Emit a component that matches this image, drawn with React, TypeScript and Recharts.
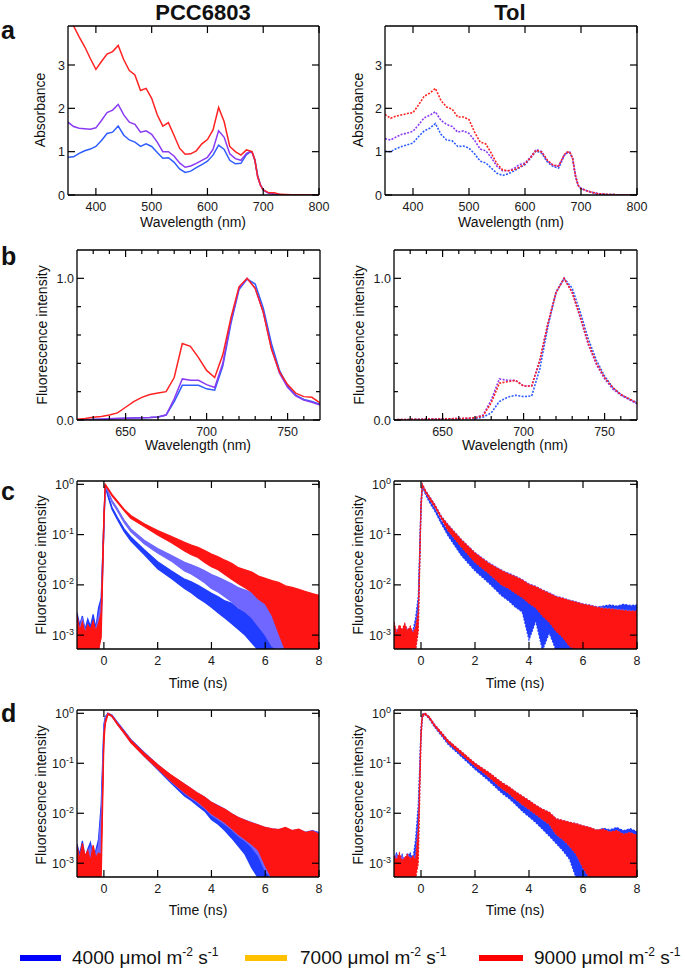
import React from "react";
import { Area, ComposedChart, Line, XAxis, YAxis } from "recharts";

const FONT = "'Liberation Sans', Arial, Helvetica, sans-serif";

// ---------- a: absorbance spectra ----------
const absWavelength = [
  350, 360, 370, 380, 390, 400, 410, 420, 430, 440, 450, 460, 470, 480, 490, 500, 510, 520, 530, 540,
  550, 560, 570, 580, 590, 600, 610, 620, 630, 640, 650, 660, 670, 675, 680, 685, 690, 695, 700, 710,
  720, 730, 740, 750, 760, 770, 780, 790, 800,
];
const pccAbsRed = [
  4.05, 3.9, 3.65, 3.42, 3.15, 2.9, 3.08, 3.25, 3.31, 3.45, 3.12, 2.87, 2.77, 2.41, 2.46, 2.23, 1.85, 1.59, 1.67, 1.38,
  1.08, 0.94, 0.95, 1.02, 1.18, 1.28, 1.5, 2.02, 1.69, 1.12, 1.0, 0.92, 1.04, 1.02, 1.0, 0.81, 0.42, 0.23, 0.12, 0.05,
  0.05, 0.015, 0.01, 0.005, 0.004, 0.003, 0.002, 0.002, 0.002,
];
const pccAbsPurple = [
  1.68, 1.58, 1.54, 1.53, 1.52, 1.55, 1.72, 1.9, 1.96, 2.09, 1.85, 1.68, 1.63, 1.45, 1.48, 1.4, 1.22, 1.0, 1.0, 0.9,
  0.74, 0.64, 0.67, 0.73, 0.8, 0.87, 1.05, 1.48, 1.33, 0.95, 0.84, 0.8, 0.96, 0.99, 0.98, 0.8, 0.42, 0.22, 0.11, 0.04,
  0.02, 0.01, 0.005, 0.003, 0.002, 0.002, 0.001, 0.001, 0.001,
];
const pccAbsBlue = [
  0.87, 0.88, 0.96, 1.02, 1.06, 1.12, 1.26, 1.42, 1.45, 1.59, 1.38, 1.27, 1.22, 1.12, 1.18, 1.12, 0.98, 0.85, 0.86, 0.76,
  0.6, 0.52, 0.55, 0.63, 0.7, 0.78, 0.92, 1.15, 1.05, 0.8, 0.72, 0.73, 0.93, 0.98, 0.99, 0.82, 0.45, 0.24, 0.12, 0.04,
  0.02, 0.01, 0.005, 0.003, 0.002, 0.002, 0.001, 0.001, 0.001,
];
const tolAbsRed = [
  1.86, 1.77, 1.82, 1.85, 1.88, 1.9, 2.08, 2.28, 2.35, 2.46, 2.18, 2.03, 1.98, 1.8, 1.8, 1.74, 1.45, 1.22, 1.18, 0.96,
  0.72, 0.58, 0.56, 0.58, 0.64, 0.72, 0.86, 1.03, 0.99, 0.8, 0.69, 0.67, 0.93, 0.99, 0.99, 0.85, 0.45, 0.22, 0.15, 0.1,
  0.06, 0.03, 0.02, 0.01, 0.008, 0.005, 0.004, 0.003, 0.002,
];
const tolAbsPurple = [
  1.3, 1.27, 1.34, 1.4, 1.43, 1.47, 1.62, 1.78, 1.84, 1.92, 1.72, 1.63, 1.58, 1.45, 1.48, 1.42, 1.26, 1.06, 1.02, 0.86,
  0.66, 0.56, 0.56, 0.61, 0.7, 0.74, 0.88, 1.05, 1.0, 0.79, 0.68, 0.66, 0.92, 0.98, 0.99, 0.85, 0.45, 0.22, 0.15, 0.1,
  0.06, 0.03, 0.02, 0.01, 0.008, 0.005, 0.004, 0.003, 0.002,
];
const tolAbsBlue = [
  1.01, 1.0, 1.07, 1.12, 1.16, 1.2, 1.35, 1.48, 1.54, 1.65, 1.4, 1.27, 1.25, 1.12, 1.13, 1.08, 0.95, 0.78, 0.74, 0.62,
  0.5, 0.45, 0.49, 0.55, 0.63, 0.7, 0.85, 1.02, 0.96, 0.76, 0.66, 0.62, 0.91, 0.97, 0.98, 0.84, 0.45, 0.22, 0.15, 0.1,
  0.06, 0.03, 0.02, 0.01, 0.008, 0.005, 0.004, 0.003, 0.002,
];

// ---------- b: 77 K fluorescence spectra ----------
const flWavelength = [
  620, 625, 630, 635, 640, 645, 650, 655, 660, 665, 670, 675, 680, 685, 690, 695, 700, 705, 710, 715,
  720, 725, 730, 735, 740, 745, 750, 755, 760, 765, 770,
];
const pccFlRed = [
  0.005, 0.01, 0.02, 0.025, 0.035, 0.05, 0.09, 0.13, 0.16, 0.18, 0.19, 0.2, 0.3, 0.54, 0.52, 0.44, 0.35, 0.3, 0.46, 0.72,
  0.94, 1.0, 0.93, 0.76, 0.5, 0.34, 0.25, 0.19, 0.165, 0.16, 0.12,
];
const pccFlPurple = [
  0.0, 0.002, 0.004, 0.006, 0.008, 0.01, 0.012, 0.014, 0.016, 0.018, 0.022, 0.035, 0.15, 0.29, 0.28, 0.28, 0.25, 0.23, 0.4, 0.7,
  0.93, 1.0, 0.93, 0.76, 0.51, 0.33, 0.23, 0.17, 0.14, 0.125, 0.105,
];
const pccFlBlue = [
  0.0, 0.002, 0.004, 0.006, 0.008, 0.01, 0.012, 0.014, 0.016, 0.018, 0.022, 0.035, 0.13, 0.245, 0.245, 0.245, 0.22, 0.21, 0.38, 0.68,
  0.92, 0.995, 0.96, 0.79, 0.54, 0.35, 0.24, 0.175, 0.145, 0.13, 0.11,
];
const tolFlRed = [
  0.002, 0.003, 0.004, 0.005, 0.006, 0.007, 0.008, 0.009, 0.01, 0.012, 0.015, 0.03, 0.12, 0.26, 0.27, 0.28, 0.24, 0.24, 0.42, 0.68,
  0.9, 1.0, 0.9, 0.73, 0.54, 0.4, 0.3, 0.23, 0.18, 0.15, 0.12,
];
const tolFlPurple = [
  0.002, 0.003, 0.004, 0.005, 0.006, 0.007, 0.008, 0.009, 0.01, 0.012, 0.016, 0.035, 0.14, 0.29, 0.28, 0.28, 0.24, 0.24, 0.42, 0.68,
  0.9, 1.0, 0.9, 0.72, 0.53, 0.39, 0.29, 0.22, 0.175, 0.145, 0.115,
];
const tolFlBlue = [
  0.0, 0.001, 0.002, 0.003, 0.004, 0.005, 0.006, 0.007, 0.008, 0.009, 0.01, 0.02, 0.05, 0.13, 0.16, 0.175, 0.165, 0.17, 0.36, 0.66,
  0.9, 1.0, 0.93, 0.76, 0.57, 0.42, 0.31, 0.23, 0.18, 0.15, 0.12,
];

// ---------- c, d: fluorescence decays (noise envelope lo / hi) ----------
const decayTime = [
  -1, -0.9, -0.8, -0.7, -0.6, -0.5, -0.4, -0.3, -0.2, -0.1, 0, 0.05, 0.15, 0.3, 0.5, 0.75, 1, 1.5, 2, 2.5,
  3, 3.25, 3.5, 3.75, 4, 4.25, 4.5, 4.75, 5, 5.25, 5.5, 5.75, 6, 6.25, 6.5, 6.75, 7, 7.25, 7.5, 7.75, 8,
];

// c, PCC6803
const cPccBlueLo = [
  0.0005, 0.0005, 0.0005, 0.0005, 0.0005, 0.0005, 0.0005, 0.0005, 0.0005, 0.0025, 0.12, 0.9, 0.58, 0.32, 0.2, 0.115, 0.075, 0.04, 0.021, 0.0135,
  0.0085, 0.007, 0.0055, 0.0045, 0.0036, 0.0028, 0.0022, 0.0017, 0.0013, 0.001, 0.0007, 0.0005, 0.0005, 0.0005, 0.0005, 0.0005, 0.0005, 0.0005, 0.0005, 0.0005, 0.0005,
];
const cPccBlueHi = [
  0.0028, 0.0016, 0.0024, 0.0013, 0.0021, 0.0015, 0.0026, 0.0014, 0.0035, 0.0055, 0.2, 0.97, 0.63, 0.35, 0.22, 0.13, 0.09, 0.05, 0.029, 0.019,
  0.013, 0.0115, 0.0098, 0.0082, 0.0068, 0.0058, 0.0048, 0.0043, 0.0033, 0.0031, 0.0024, 0.0023, 0.0017, 0.0018, 0.0013, 0.0015, 0.0011, 0.0012, 0.001, 0.0011, 0.0009,
];
const cPccVioLo = [
  0.0005, 0.0005, 0.0005, 0.0005, 0.0005, 0.0005, 0.0005, 0.0005, 0.0005, 0.0015, 0.15, 0.92, 0.7, 0.44, 0.3, 0.175, 0.115, 0.066, 0.043, 0.03,
  0.019, 0.0165, 0.0135, 0.011, 0.0085, 0.0072, 0.0058, 0.0046, 0.0035, 0.0029, 0.0022, 0.0015, 0.001, 0.0006, 0.0005, 0.0005, 0.0005, 0.0005, 0.0005, 0.0005, 0.0005,
];
const cPccVioHi = [
  0.0018, 0.0014, 0.0022, 0.0012, 0.0016, 0.0011, 0.0017, 0.0013, 0.0024, 0.0045, 0.22, 0.98, 0.74, 0.48, 0.33, 0.195, 0.13, 0.077, 0.053, 0.039,
  0.028, 0.025, 0.022, 0.019, 0.016, 0.0142, 0.0122, 0.0105, 0.0088, 0.0079, 0.007, 0.0062, 0.0054, 0.0049, 0.0044, 0.004, 0.0036, 0.0033, 0.003, 0.0028, 0.0026,
];
const cPccRedLo = [
  0.0005, 0.0005, 0.0005, 0.0005, 0.0005, 0.0005, 0.0005, 0.0005, 0.0005, 0.0009, 0.15, 0.95, 0.8, 0.59, 0.44, 0.3, 0.21, 0.145, 0.098, 0.07,
  0.047, 0.04, 0.035, 0.028, 0.023, 0.02, 0.016, 0.013, 0.0105, 0.0088, 0.0072, 0.0052, 0.0042, 0.0025, 0.0011, 0.0005, 0.0005, 0.0005, 0.0005, 0.0005, 0.0005,
];
const cPccRedHi = [
  0.0025, 0.0012, 0.0018, 0.0011, 0.0016, 0.0013, 0.0019, 0.0012, 0.0017, 0.0028, 0.25, 1.0, 0.84, 0.63, 0.47, 0.32, 0.24, 0.165, 0.12, 0.092,
  0.07, 0.062, 0.056, 0.048, 0.041, 0.036, 0.031, 0.027, 0.022, 0.02, 0.018, 0.015, 0.0135, 0.0122, 0.0112, 0.0096, 0.0089, 0.0082, 0.0074, 0.0067, 0.0062,
];

// c, Tol
const cTolBlueLo = [
  0.0005, 0.0005, 0.0005, 0.0005, 0.0005, 0.0005, 0.0005, 0.0005, 0.0008, 0.003, 0.3, 0.92, 0.66, 0.45, 0.3, 0.165, 0.095, 0.038, 0.019, 0.011,
  0.006, 0.0048, 0.0036, 0.0029, 0.0008, 0.0019, 0.0005, 0.0011, 0.0005, 0.0005, 0.0005, 0.0005, 0.0005, 0.0005, 0.0005, 0.0005, 0.0005, 0.0005, 0.0005, 0.0005, 0.0005,
];
const cTolBlueHi = [
  0.0013, 0.0011, 0.0014, 0.0012, 0.0015, 0.0011, 0.0013, 0.0012, 0.0022, 0.006, 0.42, 0.99, 0.72, 0.5, 0.34, 0.19, 0.12, 0.057, 0.033, 0.019,
  0.014, 0.0118, 0.0092, 0.0078, 0.0066, 0.0058, 0.005, 0.0046, 0.0041, 0.0039, 0.0037, 0.0036, 0.0035, 0.0037, 0.0036, 0.0038, 0.004, 0.0038, 0.0041, 0.0039, 0.004,
];
const cTolVioLo = [
  0.0005, 0.0005, 0.0005, 0.0005, 0.0005, 0.0005, 0.0005, 0.0005, 0.0005, 0.0015, 0.32, 0.94, 0.73, 0.53, 0.37, 0.215, 0.125, 0.058, 0.029, 0.0175,
  0.01, 0.0088, 0.007, 0.0058, 0.0045, 0.0036, 0.0026, 0.0019, 0.0013, 0.001, 0.0007, 0.0005, 0.0005, 0.0005, 0.0005, 0.0005, 0.0005, 0.0005, 0.0005, 0.0005, 0.0005,
];
const cTolVioHi = [
  0.0016, 0.0012, 0.0015, 0.0011, 0.0016, 0.0013, 0.0014, 0.0012, 0.0016, 0.0035, 0.47, 1.0, 0.79, 0.59, 0.41, 0.235, 0.16, 0.08, 0.044, 0.028,
  0.0195, 0.017, 0.015, 0.0128, 0.0105, 0.0094, 0.008, 0.007, 0.006, 0.0055, 0.005, 0.0046, 0.0042, 0.004, 0.0037, 0.0035, 0.0034, 0.0033, 0.0032, 0.0031, 0.003,
];
const cTolRedLo = [
  0.0005, 0.0005, 0.0005, 0.0005, 0.0005, 0.0005, 0.0005, 0.0005, 0.0005, 0.0012, 0.3, 0.95, 0.72, 0.52, 0.36, 0.21, 0.12, 0.056, 0.028, 0.017,
  0.0098, 0.0085, 0.0068, 0.0056, 0.0043, 0.0035, 0.0024, 0.0018, 0.0012, 0.0009, 0.0006, 0.0005, 0.0005, 0.0005, 0.0005, 0.0005, 0.0005, 0.0005, 0.0005, 0.0005, 0.0005,
];
const cTolRedHi = [
  0.0018, 0.0011, 0.0016, 0.0013, 0.0017, 0.0012, 0.0015, 0.0011, 0.0014, 0.003, 0.45, 1.0, 0.78, 0.58, 0.4, 0.23, 0.155, 0.078, 0.043, 0.027,
  0.019, 0.0165, 0.0145, 0.0125, 0.0102, 0.0092, 0.0078, 0.0068, 0.0058, 0.0054, 0.0049, 0.0045, 0.0041, 0.0039, 0.0036, 0.0034, 0.0033, 0.0032, 0.0031, 0.003, 0.003,
];

// d, PCC6803
const dPccBlueLo = [
  0.0005, 0.0005, 0.0005, 0.0005, 0.0005, 0.0005, 0.0005, 0.0005, 0.001, 0.008, 0.4, 0.75, 0.97, 0.88, 0.62, 0.41, 0.27, 0.14, 0.075, 0.04,
  0.022, 0.018, 0.014, 0.011, 0.0075, 0.006, 0.0045, 0.0032, 0.0022, 0.0015, 0.0008, 0.0005, 0.0005, 0.0005, 0.0005, 0.0005, 0.0005, 0.0005, 0.0005, 0.0005, 0.0005,
];
const dPccBlueHi = [
  0.0024, 0.0015, 0.0028, 0.0013, 0.0019, 0.0026, 0.0014, 0.0018, 0.003, 0.015, 0.6, 0.85, 1.0, 0.93, 0.67, 0.45, 0.3, 0.165, 0.092, 0.055,
  0.034, 0.028, 0.022, 0.018, 0.014, 0.012, 0.0095, 0.0078, 0.0065, 0.0056, 0.0048, 0.0042, 0.0038, 0.0035, 0.0042, 0.0036, 0.004, 0.0044, 0.0039, 0.0045, 0.0041,
];
const dPccVioLo = [
  0.0005, 0.0005, 0.0005, 0.0005, 0.0005, 0.0005, 0.0005, 0.0005, 0.0005, 0.003, 0.35, 0.7, 0.96, 0.87, 0.61, 0.4, 0.265, 0.14, 0.077, 0.043,
  0.025, 0.02, 0.016, 0.0125, 0.0092, 0.0075, 0.006, 0.0047, 0.0035, 0.0028, 0.0021, 0.0014, 0.0007, 0.0005, 0.0005, 0.0005, 0.0005, 0.0005, 0.0005, 0.0005, 0.0005,
];
const dPccVioHi = [
  0.002, 0.0013, 0.0022, 0.0012, 0.0017, 0.0021, 0.0013, 0.0016, 0.0022, 0.009, 0.5, 0.8, 1.0, 0.91, 0.65, 0.44, 0.295, 0.162, 0.094, 0.057,
  0.038, 0.031, 0.025, 0.021, 0.0165, 0.0142, 0.012, 0.0098, 0.0082, 0.0073, 0.0065, 0.0058, 0.0052, 0.0049, 0.0047, 0.005, 0.0045, 0.0047, 0.0042, 0.0045, 0.0039,
];
const dPccRedLo = [
  0.0005, 0.0005, 0.0005, 0.0005, 0.0005, 0.0005, 0.0005, 0.0005, 0.0005, 0.0005, 0.25, 0.6, 0.95, 0.86, 0.6, 0.4, 0.26, 0.14, 0.078, 0.044,
  0.026, 0.021, 0.017, 0.013, 0.0098, 0.008, 0.0065, 0.005, 0.0038, 0.003, 0.0024, 0.0018, 0.0009, 0.0005, 0.0005, 0.0005, 0.0005, 0.0005, 0.0005, 0.0005, 0.0005,
];
const dPccRedHi = [
  0.0022, 0.0012, 0.0025, 0.0014, 0.0018, 0.0011, 0.0023, 0.0013, 0.0016, 0.0015, 0.4, 0.7, 1.0, 0.9, 0.64, 0.43, 0.29, 0.16, 0.094, 0.058,
  0.038, 0.031, 0.025, 0.021, 0.0165, 0.014, 0.012, 0.0098, 0.0082, 0.0072, 0.0064, 0.0058, 0.0052, 0.0049, 0.0047, 0.0052, 0.0045, 0.0048, 0.0041, 0.0044, 0.0038,
];

// d, Tol
const dTolBlueLo = [
  0.0005, 0.0005, 0.0005, 0.0005, 0.0005, 0.0005, 0.0005, 0.0005, 0.0012, 0.006, 0.35, 0.85, 0.95, 0.78, 0.53, 0.36, 0.24, 0.135, 0.076, 0.045,
  0.025, 0.02, 0.015, 0.011, 0.0085, 0.0065, 0.0048, 0.0035, 0.0025, 0.0018, 0.0012, 0.0005, 0.0005, 0.0005, 0.0005, 0.0005, 0.0005, 0.0005, 0.0005, 0.0005, 0.0005,
];
const dTolBlueHi = [
  0.0013, 0.0016, 0.0012, 0.0015, 0.0011, 0.0014, 0.0016, 0.0012, 0.003, 0.015, 0.5, 0.95, 1.0, 0.84, 0.58, 0.4, 0.27, 0.155, 0.09, 0.056,
  0.034, 0.028, 0.022, 0.018, 0.015, 0.012, 0.0098, 0.0082, 0.007, 0.0062, 0.0055, 0.005, 0.0046, 0.0049, 0.0044, 0.005, 0.0047, 0.0052, 0.0045, 0.0049, 0.0043,
];
const dTolVioLo = [
  0.0005, 0.0005, 0.0005, 0.0005, 0.0005, 0.0005, 0.0005, 0.0005, 0.0005, 0.002, 0.32, 0.85, 0.96, 0.8, 0.55, 0.38, 0.26, 0.15, 0.088, 0.054,
  0.031, 0.025, 0.019, 0.015, 0.012, 0.0095, 0.0075, 0.006, 0.0038, 0.003, 0.0022, 0.0015, 0.0008, 0.0005, 0.0005, 0.0005, 0.0005, 0.0005, 0.0005, 0.0005, 0.0005,
];
const dTolVioHi = [
  0.0012, 0.0015, 0.0011, 0.0014, 0.0012, 0.0016, 0.0013, 0.0011, 0.0015, 0.006, 0.48, 0.95, 1.0, 0.86, 0.6, 0.42, 0.29, 0.17, 0.1, 0.066,
  0.041, 0.034, 0.027, 0.022, 0.018, 0.0145, 0.012, 0.0105, 0.0078, 0.0072, 0.0066, 0.0062, 0.0056, 0.0052, 0.0046, 0.0048, 0.0042, 0.0045, 0.0038, 0.0041, 0.0036,
];
const dTolRedLo = [
  0.0005, 0.0005, 0.0005, 0.0005, 0.0005, 0.0005, 0.0005, 0.0005, 0.0005, 0.001, 0.3, 0.85, 0.96, 0.8, 0.55, 0.38, 0.26, 0.15, 0.088, 0.054,
  0.031, 0.025, 0.019, 0.015, 0.012, 0.0095, 0.0075, 0.006, 0.0038, 0.003, 0.0022, 0.0015, 0.0008, 0.0005, 0.0005, 0.0005, 0.0005, 0.0005, 0.0005, 0.0005, 0.0005,
];
const dTolRedHi = [
  0.0014, 0.0012, 0.0016, 0.0011, 0.0013, 0.0015, 0.0012, 0.0014, 0.0012, 0.005, 0.5, 0.95, 1.0, 0.86, 0.6, 0.42, 0.29, 0.17, 0.1, 0.066,
  0.041, 0.034, 0.027, 0.022, 0.018, 0.0145, 0.012, 0.0105, 0.0078, 0.0072, 0.0066, 0.0062, 0.0056, 0.0052, 0.0046, 0.0048, 0.0042, 0.0045, 0.0038, 0.0041, 0.0036,
];

// ---------- ticks / labels ----------
const absTicksX = [400, 500, 600, 700, 800];
const absTicksY = [0, 1, 2, 3];
const flTicksX = [630, 640, 650, 660, 670, 680, 690, 700, 710, 720, 730, 740, 750, 760];
const flTicksY = [0, 0.2, 0.4, 0.6, 0.8, 1.0];
const flLabelsX = [650, 700, 750];
const decayTicksX = [0, 2, 4, 6, 8];
const decayTicksY = [0.001, 0.01, 0.1, 1];
const legendItems = [
  { label: "4000", color: "#0000ff" },
  { label: "7000", color: "#ffc000" },
  { label: "9000", color: "#ff0000" },
];

// colours
const BLUE = "#2f5cff";
const PURPLE = "#8a3bf2";
const RED = "#ff2222";
const BLUE_D = "#1f3cff";
const VIOLET_D = "#6f67ff";
const RED_D = "#ff1414";
const DOTS = "2 1.4";

// plot box sits at (36, 8) inside each chart; axes take 1px each, the rest is margin
const M = { top: 7, right: 19, bottom: 23, left: 35 };
const PAD = { left: 36, top: 8, right: 20, bottom: 24 };
const TICK_STROKE = { stroke: "#000", strokeWidth: 1.2 };

type Side = "bottom" | "top" | "left" | "right";

function makeTick(side: Side, isMajor: (v: number) => boolean, label?: (v: number) => React.ReactNode) {
  return (props: any) => {
    const { x, y, payload } = props;
    const v = payload.value as number;
    const len = isMajor(v) ? 7 : 4;
    let line: React.ReactNode = null;
    let text: React.ReactNode = null;
    if (side === "bottom") {
      line = <line x1={x} y1={y} x2={x} y2={y - len} {...TICK_STROKE} />;
      const t = label ? label(v) : null;
      if (t !== null) {
        text = (
          <text x={x} y={y + 15.5} textAnchor="middle" fontSize={12.5} fontFamily={FONT} fill="#1a1a1a">
            {t}
          </text>
        );
      }
    } else if (side === "top") {
      line = <line x1={x} y1={y} x2={x} y2={y + len} {...TICK_STROKE} />;
    } else if (side === "left") {
      line = <line x1={x} y1={y} x2={x + len} y2={y} {...TICK_STROKE} />;
      const t = label ? label(v) : null;
      if (t !== null) {
        text = (
          <text x={x - 3} y={y + 4.5} textAnchor="end" fontSize={12.5} fontFamily={FONT} fill="#1a1a1a">
            {t}
          </text>
        );
      }
    } else {
      line = <line x1={x} y1={y} x2={x - len} y2={y} {...TICK_STROKE} />;
    }
    return (
      <g>
        {line}
        {text}
      </g>
    );
  };
}

const logLabel = (v: number) => {
  const e = Math.round(Math.log10(v));
  return (
    <>
      <tspan>10</tspan>
      <tspan dy={-5} fontSize={9}>
        {String(e)}
      </tspan>
    </>
  );
};

interface PanelProps {
  box: [number, number, number, number];
  data: any[];
  xDomain: [number, number];
  yDomain: [number, number];
  xTicks: number[];
  yTicks: number[];
  xMajor: (v: number) => boolean;
  yMajor: (v: number) => boolean;
  xLabel: (v: number) => React.ReactNode;
  yLabel: (v: number) => React.ReactNode;
  log?: boolean;
  children: React.ReactNode;
}

function Panel({ box, data, xDomain, yDomain, xTicks, yTicks, xMajor, yMajor, xLabel, yLabel, log, children }: PanelProps) {
  const [left, top, w, h] = box;
  const axisLine = { stroke: "#000", strokeWidth: 1.3 };
  return (
    <div style={{ position: "absolute", left: left - PAD.left, top: top - PAD.top }}>
      <ComposedChart width={w + PAD.left + PAD.right} height={h + PAD.top + PAD.bottom} data={data} margin={M}>
        <XAxis
          dataKey="x"
          type="number"
          domain={xDomain}
          allowDataOverflow
          ticks={xTicks}
          interval={0}
          height={1}
          tickSize={0}
          tickMargin={0}
          tickLine={false}
          axisLine={axisLine}
          tick={makeTick("bottom", xMajor, xLabel)}
        />
        <XAxis
          xAxisId="top"
          orientation="top"
          dataKey="x"
          type="number"
          domain={xDomain}
          allowDataOverflow
          ticks={xTicks}
          interval={0}
          height={1}
          tickSize={0}
          tickMargin={0}
          tickLine={false}
          axisLine={axisLine}
          tick={makeTick("top", xMajor)}
        />
        <YAxis
          type="number"
          scale={log ? "log" : "linear"}
          domain={yDomain}
          allowDataOverflow
          ticks={yTicks}
          interval={0}
          width={1}
          tickSize={0}
          tickMargin={0}
          tickLine={false}
          axisLine={axisLine}
          tick={makeTick("left", yMajor, yLabel)}
        />
        <YAxis
          yAxisId="right"
          orientation="right"
          type="number"
          scale={log ? "log" : "linear"}
          domain={yDomain}
          allowDataOverflow
          ticks={yTicks}
          interval={0}
          width={1}
          tickSize={0}
          tickMargin={0}
          tickLine={false}
          axisLine={axisLine}
          tick={makeTick("right", yMajor)}
        />
        {children}
      </ComposedChart>
    </div>
  );
}

function rows(x: number[], series: Record<string, number[]>) {
  return x.map((xv, i) => {
    const r: Record<string, number> = { x: xv };
    for (const k of Object.keys(series)) r[k] = series[k][i];
    return r;
  });
}

function bandRows(x: number[], series: Record<string, [number[], number[]]>) {
  return x.map((xv, i) => {
    const r: Record<string, any> = { x: xv };
    for (const k of Object.keys(series)) r[k] = [series[k][0][i], series[k][1][i]];
    return r;
  });
}

const absData = rows(absWavelength, {
  pb: pccAbsBlue, pp: pccAbsPurple, pr: pccAbsRed,
  tb: tolAbsBlue, tp: tolAbsPurple, tr: tolAbsRed,
});
const flData = rows(flWavelength, {
  pb: pccFlBlue, pp: pccFlPurple, pr: pccFlRed,
  tb: tolFlBlue, tp: tolFlPurple, tr: tolFlRed,
});
const cPccData = bandRows(decayTime, {
  b: [cPccBlueLo, cPccBlueHi], v: [cPccVioLo, cPccVioHi], r: [cPccRedLo, cPccRedHi],
});
const cTolData = bandRows(decayTime, {
  b: [cTolBlueLo, cTolBlueHi], v: [cTolVioLo, cTolVioHi], r: [cTolRedLo, cTolRedHi],
});
const dPccData = bandRows(decayTime, {
  b: [dPccBlueLo, dPccBlueHi], v: [dPccVioLo, dPccVioHi], r: [dPccRedLo, dPccRedHi],
});
const dTolData = bandRows(decayTime, {
  b: [dTolBlueLo, dTolBlueHi], v: [dTolVioLo, dTolVioHi], r: [dTolRedLo, dTolRedHi],
});

const allMajor = () => true;
const plain = (v: number) => String(v);

function lines(keys: [string, string][], dotted: boolean) {
  return keys.map(([k, c]) => (
    <Line
      key={k}
      dataKey={k}
      type="linear"
      stroke={c}
      strokeWidth={dotted ? 1.6 : 1.5}
      strokeDasharray={dotted ? DOTS : undefined}
      dot={false}
      isAnimationActive={false}
    />
  ));
}

function bands(dotted: boolean) {
  const keys: [string, string][] = [["b", BLUE_D], ["v", VIOLET_D], ["r", RED_D]];
  return keys.map(([k, c]) => (
    <Area
      key={k}
      dataKey={k}
      type="linear"
      stroke={c}
      strokeWidth={1.2}
      strokeDasharray={dotted ? DOTS : undefined}
      fill={c}
      fillOpacity={1}
      dot={false}
      activeDot={false}
      isAnimationActive={false}
    />
  ));
}

const DECAY_DOMAIN: [number, number] = [0.00053, 1.165];

function decayPanel(box: [number, number, number, number], data: any[], dotted: boolean) {
  return (
    <Panel
      box={box}
      data={data}
      xDomain={[-1, 8]}
      yDomain={DECAY_DOMAIN}
      xTicks={decayTicksX}
      yTicks={decayTicksY}
      xMajor={allMajor}
      yMajor={allMajor}
      xLabel={plain}
      yLabel={logLabel}
      log
    >
      {bands(dotted)}
    </Panel>
  );
}

function Texts() {
  const t = { fontFamily: FONT, fill: "#111" };
  const axisTitle = (x: number, y: number, s: string, rotate = false) =>
    rotate ? (
      <text key={s + x + y} transform={`translate(${x},${y}) rotate(-90)`} textAnchor="middle" fontSize={14} {...t}>
        {s}
      </text>
    ) : (
      <text key={s + x + y} x={x} y={y} textAnchor="middle" fontSize={14} {...t}>
        {s}
      </text>
    );
  const legendX = [
    { sw: [20, 61], tx: 72 },
    { sw: [245, 287], tx: 300 },
    { sw: [479, 523], tx: 534 },
  ];
  return (
    <svg width={685} height={969} style={{ position: "absolute", left: 0, top: 0, pointerEvents: "none" }}>
      <text x={203} y={20} textAnchor="middle" fontSize={22} fontWeight="bold" {...t}>PCC6803</text>
      <text x={510} y={20} textAnchor="middle" fontSize={22} fontWeight="bold" {...t}>Tol</text>
      {[["a", 39], ["b", 265], ["c", 500], ["d", 722]].map(([s, y]) => (
        <text key={s as string} x={1} y={y as number} fontSize={25} fontWeight="bold" {...t}>{s}</text>
      ))}
      {axisTitle(45, 110, "Absorbance", true)}
      {axisTitle(363, 110, "Absorbance", true)}
      {axisTitle(193, 227, "Wavelength (nm)")}
      {axisTitle(511, 227, "Wavelength (nm)")}
      {axisTitle(47, 335, "Fluorescence intensity", true)}
      {axisTitle(364, 335, "Fluorescence intensity", true)}
      {axisTitle(198, 450, "Wavelength (nm)")}
      {axisTitle(515, 450, "Wavelength (nm)")}
      {axisTitle(46, 565, "Fluorescence intensity", true)}
      {axisTitle(363, 565, "Fluorescence intensity", true)}
      {axisTitle(198, 688, "Time (ns)")}
      {axisTitle(515, 688, "Time (ns)")}
      {axisTitle(46, 795, "Fluorescence intensity", true)}
      {axisTitle(363, 795, "Fluorescence intensity", true)}
      {axisTitle(198, 915, "Time (ns)")}
      {axisTitle(515, 915, "Time (ns)")}
      {legendItems.map((it, i) => (
        <g key={it.label}>
          <line x1={legendX[i].sw[0]} x2={legendX[i].sw[1]} y1={958} y2={958} stroke={it.color} strokeWidth={6} />
          <text x={legendX[i].tx} y={964} fontSize={19} {...t}>
            {it.label} μmol m
            <tspan dy={-8} fontSize={12}>-2</tspan>
            <tspan dy={8}> s</tspan>
            <tspan dy={-8} fontSize={12}>-1</tspan>
          </text>
        </g>
      ))}
    </svg>
  );
}

export default function App() {
  return (
    <div style={{ position: "absolute", left: 0, top: 0, width: 685, height: 969, background: "#fff", overflow: "hidden" }}>
      {/* a */}
      <Panel
        box={[68, 26, 251, 169]}
        data={absData}
        xDomain={[350, 800]}
        yDomain={[0, 3.9]}
        xTicks={absTicksX}
        yTicks={absTicksY}
        xMajor={allMajor}
        yMajor={allMajor}
        xLabel={plain}
        yLabel={plain}
      >
        {lines([["pb", BLUE], ["pp", PURPLE], ["pr", RED]], false)}
      </Panel>
      <Panel
        box={[385, 26, 252, 169]}
        data={absData}
        xDomain={[350, 800]}
        yDomain={[0, 3.9]}
        xTicks={absTicksX}
        yTicks={absTicksY}
        xMajor={allMajor}
        yMajor={allMajor}
        xLabel={plain}
        yLabel={plain}
      >
        {lines([["tb", BLUE], ["tp", PURPLE], ["tr", RED]], true)}
      </Panel>
      {/* b */}
      <Panel
        box={[77, 250, 243, 170]}
        data={flData}
        xDomain={[620, 770]}
        yDomain={[0, 1.2]}
        xTicks={flTicksX}
        yTicks={flTicksY}
        xMajor={(v) => flLabelsX.includes(v)}
        yMajor={(v) => v === 0 || v === 1}
        xLabel={(v) => (flLabelsX.includes(v) ? String(v) : null)}
        yLabel={(v) => (v === 0 || v === 1 ? v.toFixed(1) : null)}
      >
        {lines([["pb", BLUE], ["pp", PURPLE], ["pr", RED]], false)}
      </Panel>
      <Panel
        box={[394, 250, 243, 170]}
        data={flData}
        xDomain={[620, 770]}
        yDomain={[0, 1.2]}
        xTicks={flTicksX}
        yTicks={flTicksY}
        xMajor={(v) => flLabelsX.includes(v)}
        yMajor={(v) => v === 0 || v === 1}
        xLabel={(v) => (flLabelsX.includes(v) ? String(v) : null)}
        yLabel={(v) => (v === 0 || v === 1 ? v.toFixed(1) : null)}
      >
        {lines([["tb", BLUE], ["tp", PURPLE], ["tr", RED]], true)}
      </Panel>
      {/* c, d */}
      {decayPanel([77, 481, 242, 168], cPccData, false)}
      {decayPanel([394, 481, 243, 168], cTolData, true)}
      {decayPanel([77, 710, 242, 167], dPccData, false)}
      {decayPanel([394, 710, 243, 167], dTolData, true)}
      <Texts />
    </div>
  );
}
